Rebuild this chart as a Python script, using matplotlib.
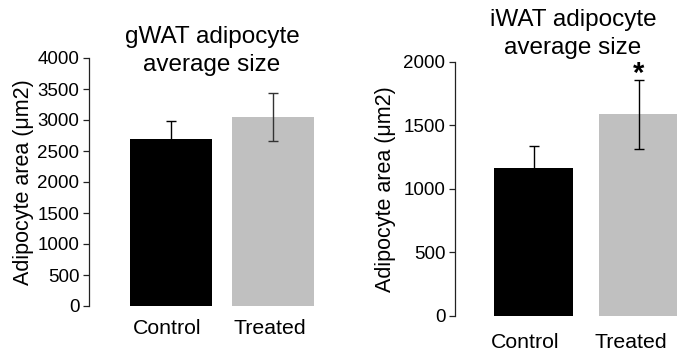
import matplotlib.pyplot as plt
from matplotlib.transforms import ScaledTranslation

plt.rcParams['font.family'] = ['Liberation Sans', 'DejaVu Sans']

groups = ['Control', 'Treated']
bar_colors = ['black', '#c0c0c0']

gwat_mean = [2690, 3050]
gwat_err = [300, 385]

iwat_mean = [1165, 1585]
iwat_err = [170, 270]

W, H = 677, 356
fig = plt.figure(figsize=(W / 100, H / 100), dpi=100)


def px_axes(left, top, bottom, right):
    return fig.add_axes([left / W, (H - bottom) / H, (right - left) / W, (bottom - top) / H])


def style(ax, xpad, ypad, xshift):
    for s in ['top', 'right', 'bottom']:
        ax.spines[s].set_visible(False)
    ax.spines['left'].set_linewidth(0.9)
    ax.spines['left'].set_color('#222222')
    ax.tick_params(axis='y', direction='out', length=4, width=0.9, color='#222222',
                   labelsize=13.5, pad=3)
    ax.tick_params(axis='x', length=0, labelsize=15.3, pad=xpad)
    ax.set_ylabel('Adipocyte area (\u03bcm2)', fontsize=15.5, labelpad=ypad)
    shift = ScaledTranslation(xshift / 100, 0, fig.dpi_scale_trans)
    for lbl in ax.get_xticklabels():
        lbl.set_transform(lbl.get_transform() + shift)


# gWAT panel
ax1 = px_axes(89, 58, 306, 335)
ax1.bar(range(len(groups)), gwat_mean, width=0.8, color=bar_colors)
for i in range(len(groups)):
    ax1.errorbar(i, gwat_mean[i], yerr=gwat_err[i], fmt='none',
                 ecolor=['black', '#333333'][i], elinewidth=1, capsize=3.5, capthick=1)
ax1.set_ylim(0, 4000)
ax1.set_yticks(range(0, 4001, 500))
ax1.set_xlim(-0.796, 1.6)
ax1.set_xticks(range(len(groups)))
ax1.set_xticklabels(groups)
style(ax1, 9, 2, -4)
fig.text(212 / W, 1 - 51 / H, 'gWAT adipocyte\naverage size', ha='center', va='center',
         fontsize=17.5, linespacing=1.38)

# iWAT panel
ax2 = px_axes(455, 61.7, 316, 677)
ax2.bar(range(len(groups)), iwat_mean, width=0.75, color=bar_colors)
ax2.errorbar(range(len(groups)), iwat_mean, yerr=iwat_err, fmt='none',
             ecolor='black', elinewidth=1, capsize=3.5, capthick=1)
ax2.set_ylim(0, 2000)
ax2.set_yticks(range(0, 2001, 500))
ax2.set_xlim(-0.744, 1.36)
ax2.set_xticks(range(len(groups)))
ax2.set_xticklabels(groups)
style(ax2, 12, 5.5, -8)
ax2.text(1, 1905, '*', ha='center', va='center', fontsize=21, fontweight='bold')
fig.text(573 / W, 1 - 34 / H, 'iWAT adipocyte\naverage size', ha='center', va='center',
         fontsize=17.5, linespacing=1.38)

fig.savefig('out.png', dpi=100)
